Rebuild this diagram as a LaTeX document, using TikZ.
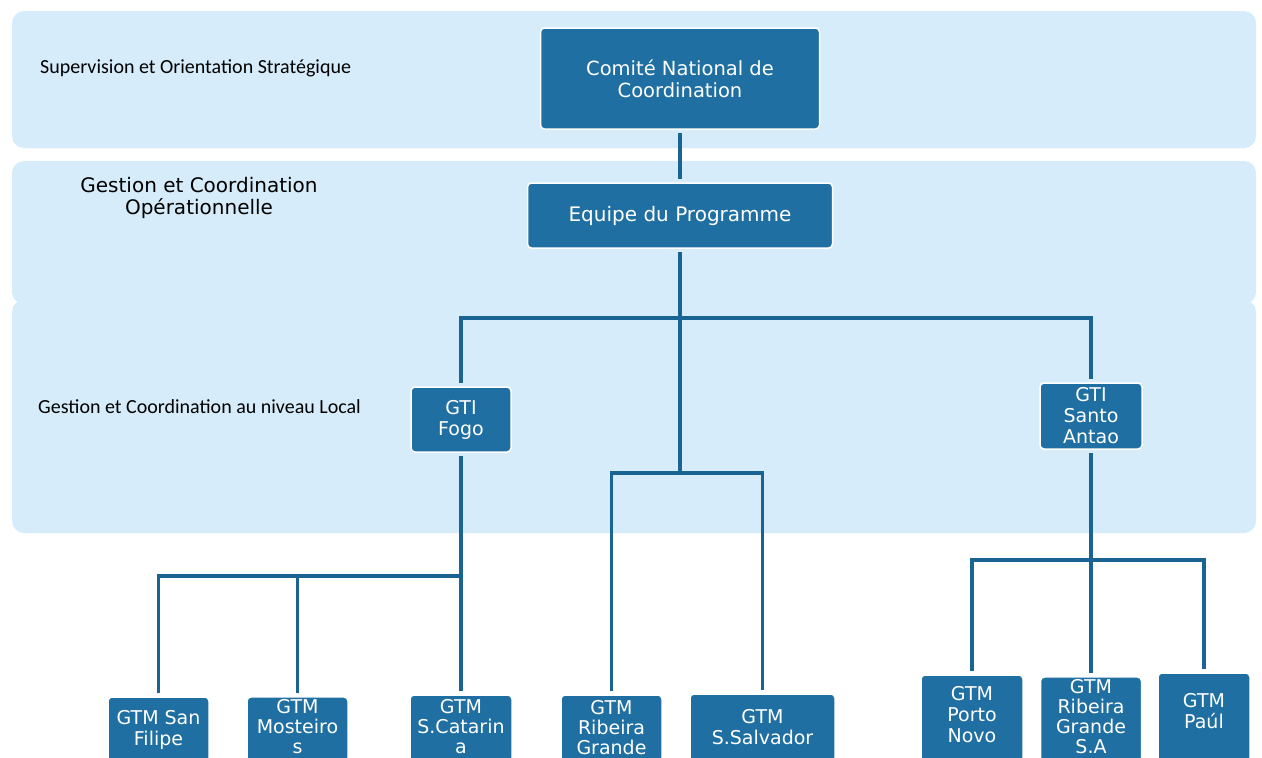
\documentclass[tikz,border=0pt]{standalone}
\usepackage{fontspec}
\setmainfont{DejaVu Sans}
\newfontfamily\labfont{Carlito}
\definecolor{boxblue}{RGB}{31,111,162}
\definecolor{lineblue}{RGB}{26,100,148}
\definecolor{bandblue}{RGB}{214,236,250}
\begin{document}
\begin{tikzpicture}[x=1pt,y=-1pt,
  orgbox/.style={fill=boxblue, draw=white, line width=1.5pt, rounded corners=4pt,
    text=white, align=center, inner sep=2pt, outer sep=4pt,
    font=\fontsize{19}{21}\selectfont},
  gtm/.style={orgbox, font=\fontsize{19}{20}\selectfont},
  band/.style={fill=bandblue, rounded corners=12pt},
  link/.style={draw=lineblue, line width=3.5pt},
  lvl/.style={font=\labfont\fontsize{20}{23}\selectfont, text=black, inner sep=0pt}
]
\useasboundingbox (0,0) rectangle (1262,758);
\clip (0,0) rectangle (1262,758);
\fill[white] (0,0) rectangle (1262,758);

% bands
\fill[band] (12,11) rectangle (1256,148);
\fill[band] (12,161) rectangle (1256,304);
\fill[band] (12,300) rectangle (1256,533);

% level labels
\node[lvl, anchor=base west] (l1) at (40,73) {Supervision et Orientation Stratégique};
\node[inner sep=0pt, anchor=base, align=center, font=\fontsize{20}{22}\selectfont] (l2) at (199,214)
  {Gestion et Coordination\\Opérationnelle};
\node[lvl, anchor=base west] (l3) at (38,413) {Gestion et Coordination au niveau Local};

% boxes
\node[orgbox, minimum width=279pt, minimum height=101pt, font=\fontsize{19.5}{22}\selectfont] (cnc) at (680,78.5)
  {Comité National de\\Coordination};
\node[orgbox, minimum width=305pt, minimum height=65pt, font=\fontsize{20}{22}\selectfont] (eq) at (680,215.5)
  {Equipe du Programme};
\node[orgbox, minimum width=100pt, minimum height=65pt] (fogo) at (461,419.5) {GTI\\Fogo};
\node[orgbox, minimum width=102pt, minimum height=66pt] (santo) at (1091,416) {GTI\\Santo\\Antao};

\node[orgbox, minimum width=101pt, minimum height=65pt] (sfil) at (158.5,729.5) {GTM San\\Filipe};
\node[gtm, minimum width=101pt, minimum height=65pt, text depth=7pt] (most) at (297.5,729.5) {GTM\\Mosteiro\\s};
\node[gtm, minimum width=102pt, minimum height=67pt, text depth=5pt] (scat) at (461,728.5) {GTM\\S.Catarin\\a};
\node[gtm, minimum width=101pt, minimum height=67pt, text depth=3pt] (rib) at (611.5,728.5) {GTM\\Ribeira\\Grande};
\node[orgbox, minimum width=145pt, minimum height=68pt, text depth=3pt] (ssal) at (762.5,728) {GTM\\S.Salvador};
\node[orgbox, minimum width=102pt, minimum height=87pt, text depth=9pt] (porto) at (972,718.5) {GTM\\Porto\\Novo};
\node[gtm, minimum width=101pt, minimum height=85pt, text depth=7pt] (rgsa) at (1091,719.5) {GTM\\Ribeira\\Grande\\S.A};
\node[orgbox, minimum width=92pt, minimum height=89pt, text depth=14pt] (paul) at (1204,717.5) {GTM\\Paúl};

% bus points
\coordinate (busA) at (680,318);
\coordinate (busB) at (680,473);
\coordinate (busC) at (461,576);
\coordinate (busD) at (1091,560);

% connectors
\draw[link] (cnc.south) -- (eq.north);
\draw[link] (eq.south) -- (busB);
\draw[link] (fogo.north) |- (busA) -| (santo.north);
\draw[link] (rib.north) |- (busB) -| (ssal.north);
\draw[link] (fogo.south) -- (busC);
\draw[link] (sfil.north) |- (busC) -- (scat.north);
\draw[link] (most.north) -- (most.north |- busC);
\draw[link] (santo.south) -- (busD);
\draw[link] (porto.north) |- (busD) -| (paul.north);
\draw[link] (rgsa.north) -- (busD);
\end{tikzpicture}
\end{document}
